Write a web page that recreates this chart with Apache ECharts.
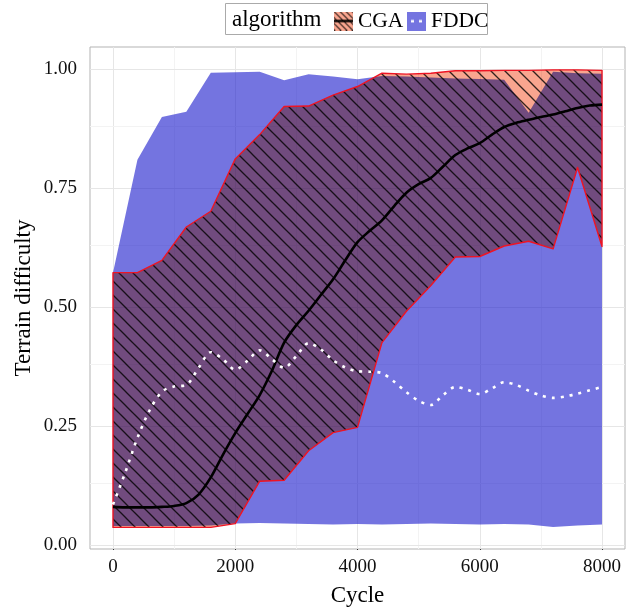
<!DOCTYPE html>
<html><head><meta charset="utf-8">
<script src="https://cdn.jsdelivr.net/npm/echarts@6/dist/echarts.min.js"></script>
<style>html,body{margin:0;padding:0;background:#fff}#c{width:636px;height:612px}</style>
</head><body><div id="c"></div>
<script>
// ---- data ----
const bandCycles = [0,400,800,1200,1600,2000,2400,2800,3200,3600,4000,4400,4800,5200,5600,6000,6400,6800,7200,7600,8000];
const cgaLower  = [0.037,0.037,0.037,0.037,0.037,0.045,0.134,0.136,0.198,0.236,0.247,0.425,0.491,0.545,0.605,0.606,0.628,0.638,0.622,0.793,0.627];
const cgaUpper  = [0.572,0.572,0.598,0.668,0.701,0.811,0.862,0.921,0.922,0.945,0.963,0.991,0.989,0.991,0.996,0.996,0.997,0.997,0.998,0.998,0.997];
const fddcLower = [0.040,0.040,0.040,0.040,0.041,0.045,0.046,0.045,0.044,0.043,0.044,0.043,0.044,0.045,0.044,0.043,0.044,0.043,0.038,0.041,0.043];
const fddcUpper = [0.572,0.809,0.899,0.910,0.992,0.993,0.994,0.976,0.989,0.984,0.978,0.985,0.984,0.982,0.980,0.979,0.977,0.908,0.994,0.991,0.990];
const lineCycles = [0,200,400,600,800,1000,1200,1400,1600,1800,2000,2200,2400,2600,2800,3000,3200,3400,3600,3800,4000,4200,4400,4600,4800,5000,5200,5400,5600,5800,6000,6200,6400,6600,6800,7000,7200,7400,7600,7800,8000];
const cgaMean  = [0.080,0.079,0.079,0.079,0.080,0.082,0.088,0.106,0.142,0.190,0.235,0.275,0.315,0.366,0.425,0.462,0.492,0.525,0.558,0.598,0.636,0.660,0.682,0.712,0.740,0.758,0.771,0.795,0.819,0.833,0.844,0.862,0.878,0.887,0.893,0.899,0.904,0.911,0.918,0.923,0.925];
const fddcMean = [0.085,0.152,0.225,0.283,0.322,0.333,0.336,0.372,0.405,0.390,0.368,0.387,0.409,0.390,0.372,0.397,0.424,0.411,0.388,0.373,0.365,0.364,0.361,0.343,0.321,0.303,0.294,0.315,0.332,0.326,0.317,0.329,0.342,0.336,0.324,0.314,0.309,0.312,0.318,0.325,0.332];
const xTicks = [0,2000,4000,6000,8000];
const yTicks = [0,0.25,0.5,0.75,1];
const xGridMajor = [0,2000,4000,6000,8000];
const xGridMinor = [1000,3000,5000,7000];
const yGridMajor = [0,0.25,0.5,0.75,1];
const yGridMinor = [0.125,0.375,0.625,0.875];
const legendTitle = 'algorithm';
const nameCGA = 'CGA', nameFDDC = 'FDDC';
const xTitle = 'Cycle', yTitle = 'Terrain difficulty';

// ---- styles ----
const SERIF = '"Liberation Serif", "DejaVu Serif", serif';
const SALMON = 'rgb(249,165,143)';
const BLUE_FILL = 'rgba(23,23,203,0.6)';

function hatchCanvas(size, bg, lineColor, lw) {
  const c = document.createElement('canvas'); c.width = size; c.height = size;
  const g = c.getContext('2d');
  g.fillStyle = bg; g.fillRect(0, 0, size, size);
  g.strokeStyle = lineColor; g.lineWidth = lw;
  for (let k = -1; k <= 1; k++) {
    g.beginPath(); g.moveTo(-size, -size + k * size); g.lineTo(2 * size, 2 * size + k * size); g.stroke();
  }
  return c;
}
const hatch = hatchCanvas(14, SALMON, 'rgba(0,0,0,0.8)', 1.3);

function iconCGA() {
  const c = document.createElement('canvas'); c.width = 19; c.height = 19;
  const g = c.getContext('2d');
  g.fillStyle = SALMON; g.fillRect(0, 0, 19, 19);
  g.strokeStyle = 'rgba(0,0,0,0.8)'; g.lineWidth = 1.2;
  for (let k = -3; k <= 3; k++) { g.beginPath(); g.moveTo(-2, -2 + k * 6); g.lineTo(22, 22 + k * 6); g.stroke(); }
  g.strokeStyle = '#000'; g.lineWidth = 2.4;
  g.beginPath(); g.moveTo(0, 9.5); g.lineTo(19, 9.5); g.stroke();
  return 'image://' + c.toDataURL();
}
function iconFDDC() {
  const c = document.createElement('canvas'); c.width = 19; c.height = 19;
  const g = c.getContext('2d');
  g.fillStyle = 'rgb(116,116,224)'; g.fillRect(0, 0, 19, 19);
  g.fillStyle = '#fff';
  g.fillRect(4, 8.5, 3, 2.4); g.fillRect(12, 8.5, 3, 2.4);
  return 'image://' + c.toDataURL();
}

function makeBand(lo, hi, style) {
  return function (params, api) {
    if (params.dataIndex !== 0) return null;
    const pts = [];
    for (let i = 0; i < bandCycles.length; i++) pts.push(api.coord([bandCycles[i], hi[i]]));
    for (let i = bandCycles.length - 1; i >= 0; i--) pts.push(api.coord([bandCycles[i], lo[i]]));
    return { type: 'polygon', shape: { points: pts }, style: style };
  };
}

const gridLines = []
  .concat(xGridMajor.map(v => ({ xAxis: v, lineStyle: { color: '#e6e6e6' } })))
  .concat(xGridMinor.map(v => ({ xAxis: v, lineStyle: { color: '#f3f3f3' } })))
  .concat(yGridMajor.map(v => ({ yAxis: v, lineStyle: { color: '#e6e6e6' } })))
  .concat(yGridMinor.map(v => ({ yAxis: v, lineStyle: { color: '#f3f3f3' } })));

const cgaBandData = bandCycles.map((x, i) => [x, cgaLower[i], cgaUpper[i]]);
const fddcBandData = bandCycles.map((x, i) => [x, fddcLower[i], fddcUpper[i]]);
const legendText = { fontFamily: SERIF, fontSize: 21.5, color: '#000' };

const chart = echarts.init(document.getElementById('c'), null, { renderer: 'canvas' });
chart.setOption({
  animation: false,
  backgroundColor: '#fff',
  grid: { left: 90, top: 47, width: 535, height: 504, show: true, backgroundColor: '#fff', borderColor: '#b3b3b3', borderWidth: 1 },
  xAxis: {
    type: 'value', min: -376, max: 8376,
    name: xTitle, nameLocation: 'middle', nameGap: 35, nameMoveOverlap: false,
    nameTextStyle: { fontFamily: SERIF, fontSize: 23, color: '#000' },
    axisLine: { show: false },
    axisTick: { show: true, length: 5, customValues: xTicks, lineStyle: { color: '#333' } },
    axisLabel: { customValues: xTicks, margin: 9, fontFamily: SERIF, fontSize: 19, color: '#111', formatter: v => String(v) },
    splitLine: { show: false }
  },
  yAxis: {
    type: 'value', min: -0.0084, max: 1.046,
    name: yTitle, nameLocation: 'middle', nameGap: 55, nameMoveOverlap: false,
    nameTextStyle: { fontFamily: SERIF, fontSize: 23, color: '#000' },
    axisLine: { show: false },
    axisTick: { show: true, length: 5, customValues: yTicks, lineStyle: { color: '#333' } },
    axisLabel: { customValues: yTicks, margin: 13, fontFamily: SERIF, fontSize: 19, color: '#111', formatter: v => v.toFixed(2) },
    splitLine: { show: false }
  },
  legend: [
    { left: 329, top: 5, itemWidth: 19, itemHeight: 19, selectedMode: false, textStyle: legendText,
      data: [{ name: nameCGA, icon: iconCGA() }] },
    { left: 402, top: 5, itemWidth: 19, itemHeight: 19, selectedMode: false, textStyle: legendText,
      data: [{ name: nameFDDC, icon: iconFDDC() }] }
  ],
  graphic: [
    { type: 'rect', z: 0, shape: { x: 225.5, y: 3.5, width: 262, height: 31 }, style: { fill: '#fff', stroke: '#aaaaaa', lineWidth: 1 } },
    { type: 'text', z: 1, style: { x: 232, y: 19.5, text: legendTitle, font: '23px ' + SERIF, fill: '#000', verticalAlign: 'middle' } }
  ],
  series: [
    {
      type: 'line', name: '__grid', data: [], silent: true, z: 1,
      markLine: { silent: true, z: 1, symbol: ['none', 'none'], label: { show: false }, lineStyle: { type: 'solid', width: 1 }, data: gridLines, animation: false }
    },
    {
      type: 'custom', name: nameFDDC, silent: true, z: 2, clip: true,
      data: fddcBandData, encode: { x: 0, y: [1, 2] },
      renderItem: makeBand(fddcLower, fddcUpper, { fill: BLUE_FILL })
    },
    {
      type: 'custom', name: nameCGA, silent: true, z: 3, clip: true, blendMode: 'multiply',
      data: cgaBandData, encode: { x: 0, y: [1, 2] },
      renderItem: makeBand(cgaLower, cgaUpper, { fill: { image: hatch, repeat: 'repeat' } })
    },
    {
      type: 'custom', name: nameCGA, silent: true, z: 4, clip: true,
      data: cgaBandData, encode: { x: 0, y: [1, 2] },
      renderItem: makeBand(cgaLower, cgaUpper, { fill: 'none', stroke: '#ee1424', lineWidth: 1.4, lineJoin: 'round' })
    },
    {
      type: 'line', name: nameCGA, silent: true, z: 5, showSymbol: false, smooth: 0.3,
      data: lineCycles.map((x, i) => [x, cgaMean[i]]),
      lineStyle: { color: '#000', width: 2.6 }, itemStyle: { color: '#000' }
    },
    {
      type: 'line', name: nameFDDC, silent: true, z: 6, showSymbol: false, smooth: 0.3,
      data: lineCycles.map((x, i) => [x, fddcMean[i]]),
      lineStyle: { color: '#fff', width: 2.6, type: [3, 6], cap: 'butt' }, itemStyle: { color: '#fff' }
    }
  ]
});
</script>
</body></html>
